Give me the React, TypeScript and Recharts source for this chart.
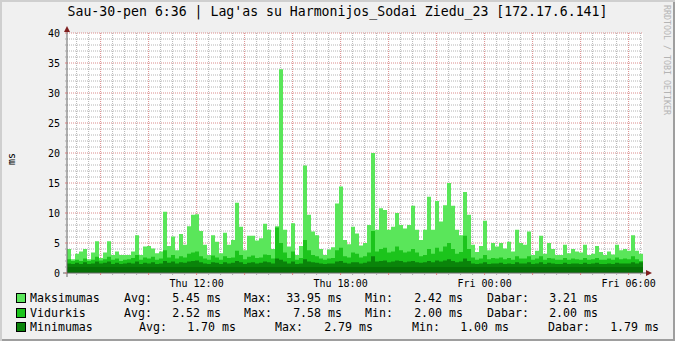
import React from 'react';
import {
  ComposedChart,
  Area,
  XAxis,
  YAxis,
  CartesianGrid,
  ReferenceArea,
  ReferenceDot
} from 'recharts';

// 10 minute samples, starting Thu 06:36 (hours since Thu 00:00)
const START_HOUR = 6.6;
const STEP_HOURS = 1 / 6;

const MAX_MS = [
  4.0, 2.3, 3.2, 3.6, 4.0, 2.3, 3.4, 5.3, 2.5, 3.4, 5.3, 3.0, 3.6, 3.0, 3.0, 3.0, 3.6, 6.3, 3.0, 4.4, 4.5, 4.1, 3.3, 3.6, 10.2, 4.5, 6.1, 3.8, 6.5,
  4.7, 7.8, 9.7, 9.8, 7.0, 4.7, 3.0, 6.3, 5.2, 3.3, 6.7, 4.7, 5.5, 11.7, 7.7, 3.8, 6.2, 6.2, 5.4, 5.8, 8.2, 7.2,
  4.0, 7.8, 33.95, 7.2, 4.4, 8.3, 3.0, 4.5, 17.9, 9.7, 6.9, 6.3, 4.0, 3.0, 3.9, 4.3, 11.6, 14.4, 5.5, 4.8, 7.7, 6.6, 4.6, 5.0, 8.0, 20.0,
  7.2, 10.8, 10.5, 7.2, 7.7, 10.0, 8.0, 7.4, 8.0, 11.2,
  7.2, 5.5, 7.2, 12.7, 7.2, 12.0, 8.6, 11.3, 15.0, 11.2, 7.2, 6.3, 13.5, 9.7, 4.7, 3.5, 4.5, 8.7, 3.8, 5.0, 4.4, 5.0, 4.1, 5.2, 3.6, 7.2, 5.0, 4.7, 6.9,
  3.0, 3.7, 6.2, 3.2, 5.0, 4.0, 3.0, 3.0, 4.7, 3.3, 4.0, 3.6, 3.4, 4.7, 3.0, 3.2, 4.5, 3.5, 3.0, 3.6, 3.1, 4.7, 3.8, 4.0, 3.7, 6.3, 3.7, 3.21
];

const AVG_MS = [
  2.3, 2.0, 2.2, 2.0, 2.4, 2.0, 2.2, 2.7, 2.1, 2.3, 2.7, 2.2, 2.4, 2.0, 2.2, 2.3, 2.5, 3.0, 2.2, 2.6, 2.4, 2.7, 2.2, 2.4, 3.8, 2.6, 3.0, 2.4, 2.8,
  2.6, 3.2, 3.4, 3.6, 2.8, 2.4, 2.2, 2.9, 2.6, 2.2, 2.8, 2.5, 2.6, 3.7, 3.0, 2.3, 2.7, 2.9, 2.5, 2.6, 3.1, 3.0,
  2.4, 7.58, 5.0, 3.4, 2.5, 3.6, 2.2, 2.5, 5.5, 3.8, 3.0, 2.8, 2.4, 2.2, 2.4, 2.5, 3.8, 4.2, 2.8, 2.6, 3.4, 3.2, 2.6, 2.8, 3.4, 7.0,
  3.6, 4.0, 4.2, 3.4, 3.6, 4.4, 3.8, 3.4, 3.6, 4.0,
  3.4, 2.8, 3.0, 4.0, 3.2, 4.2, 3.6, 4.4, 5.0, 4.0, 3.2, 3.5, 6.2, 4.0, 2.6, 2.2, 2.4, 3.0, 2.3, 2.5, 2.4, 2.6, 2.3, 2.5, 2.2, 2.8, 2.4, 2.4, 2.8,
  2.2, 2.4, 2.8, 2.2, 2.5, 2.4, 2.2, 2.2, 2.5, 2.2, 2.4, 2.3, 2.2, 2.5, 2.2, 2.3, 2.5, 2.2, 2.2, 2.4, 2.2, 2.6, 2.3, 2.4, 2.3, 2.8, 2.3, 2.0
];

const MIN_MS = [
  1.6, 1.5, 1.7, 1.5, 1.8, 1.5, 1.6, 1.9, 1.6, 1.7, 1.9, 1.5, 1.7, 1.5, 1.6, 1.7, 1.6, 1.9, 1.5, 1.7, 1.6, 1.8, 1.5, 1.6, 2.0, 1.7, 1.9, 1.6, 1.8,
  1.7, 1.9, 2.0, 2.1, 1.8, 1.6, 1.5, 1.8, 1.7, 1.5, 1.8, 1.6, 1.7, 2.0, 1.8, 1.5, 1.7, 1.8, 1.6, 1.7, 1.9, 1.8,
  1.6, 2.4, 2.2, 1.9, 1.6, 1.9, 1.5, 1.6, 2.3, 1.9, 1.8, 1.7, 1.6, 1.5, 1.6, 1.6, 1.9, 2.0, 1.7, 1.6, 1.8, 1.8, 1.6, 1.7, 1.9, 2.79,
  1.9, 2.0, 2.1, 1.8, 1.9, 2.1, 2.0, 1.8, 1.9, 2.0,
  1.8, 1.7, 1.8, 2.0, 1.8, 2.1, 1.9, 2.1, 2.3, 2.0, 1.8, 1.9, 2.4, 2.0, 1.6, 1.5, 1.6, 1.8, 1.5, 1.6, 1.6, 1.7, 1.5, 1.6, 1.5, 1.8, 1.6, 1.6, 1.8,
  1.5, 1.6, 1.8, 1.5, 1.7, 1.6, 1.5, 1.5, 1.7, 1.5, 1.6, 1.6, 1.5, 1.7, 1.5, 1.6, 1.7, 1.5, 1.5, 1.6, 1.5, 1.7, 1.6, 1.6, 1.6, 1.8, 1.6, 1.79
];

// lowest minimum seen, shown as the darkest band at the bottom
const MIN_FLOOR = 1.0;

const TIME_TICKS = [12, 18, 24, 30];
const TIME_LABELS = ['Thu 12:00', 'Thu 18:00', 'Fri 00:00', 'Fri 06:00'];

const LEGEND_NAMES = ['Maksimumas', 'Vidurkis', 'Minimumas'];
const STAT_AVG = ['5.45', '2.52', '1.70'];
const STAT_MAX = ['33.95', '7.58', '2.79'];
const STAT_MIN = ['2.42', '2.00', '1.00'];
const STAT_NOW = ['3.21', '2.00', '1.79'];

const TITLE = "Sau-30-pen 6:36 | Lag'as su Harmonijos_Sodai Ziedu_23 [172.17.6.141]";

const COLORS = ['#5AE65A', '#1CC41C', '#0A840A'];
const FLOOR_COLOR = '#067006';
const MONO = '"DejaVu Sans Mono", monospace';

// legend column layout (label start / value end), third row is shifted by tabs
const COLS_A = { avg: 124, avgEnd: 221, max: 244, maxEnd: 342, min: 365, minEnd: 463, now: 487, nowEnd: 598 };
const COLS_B = { avg: 139, avgEnd: 236, max: 275, maxEnd: 373, min: 412, minEnd: 509, now: 548, nowEnd: 659 };
const ROW_Y = [298, 313, 327];

const rows = MAX_MS.map((m, i) => ({
  t: START_HOUR + i * STEP_HOURS,
  max: m,
  avg: AVG_MS[i],
  min: MIN_MS[i]
}));
// closing row so the last step reaches the end of the window
rows.push({ ...rows[rows.length - 1], t: START_HOUR + MAX_MS.length * STEP_HOURS });

const END_HOUR = START_HOUR + MAX_MS.length * STEP_HOURS;

const minorY: number[] = [];
const majorY: number[] = [];
for (let v = 1; v <= 40; v++) (v % 5 === 0 ? majorY : minorY).push(v);
const minorX: number[] = [];
const majorX: number[] = [];
for (let h = 7; h <= 30.5; h += 0.5) (h % 2 === 0 ? majorX : minorX).push(h);
const yTicks: number[] = [];
for (let v = 0; v <= 40; v++) yTicks.push(v);
const xTicks = [...minorX, ...majorX].sort((a, b) => a - b);

const YTick = ({ x, y, payload }: any) => {
  const v = payload.value;
  const major = v % 5 === 0;
  return (
    <g>
      <line x1={x - 2} x2={x} y1={y} y2={y} stroke={major ? '#d98080' : '#aaaaaa'} />
      {major && (
        <text x={x - 7} y={y + 3.6} textAnchor="end" fontFamily={MONO} fontSize={10} fill="#000">
          {v}
        </text>
      )}
    </g>
  );
};

const XTick = ({ x, y, payload }: any) => {
  const v = payload.value;
  const idx = TIME_TICKS.indexOf(v);
  const major = v % 2 === 0;
  return (
    <g>
      <line x1={x} x2={x} y1={y} y2={y + 2} stroke={major ? '#d98080' : '#aaaaaa'} />
      {idx >= 0 && (
        <text x={x} y={y + 13.6} textAnchor="middle" fontFamily={MONO} fontSize={10} fill="#000">
          {TIME_LABELS[idx]}
        </text>
      )}
    </g>
  );
};

const UpArrow = ({ cx, cy }: any) => (
  <g>
    <line x1={cx} x2={cx} y1={cy} y2={cy - 5} stroke="#666" />
    <path d={`M${cx - 3},${cy - 1} L${cx + 3},${cy - 1} L${cx},${cy - 7} Z`} fill="#7f1f1f" />
  </g>
);

const RightArrow = ({ cx, cy }: any) => (
  <g>
    <line x1={cx} x2={cx + 4} y1={cy} y2={cy} stroke="#666" />
    <path d={`M${cx + 3},${cy - 3} L${cx + 3},${cy + 3} L${cx + 9},${cy} Z`} fill="#7f1f1f" />
  </g>
);

const Origin = ({ cx, cy }: any) => (
  <g>
    <line x1={cx - 4} x2={cx} y1={cy} y2={cy} stroke="#666" />
    <line x1={cx} x2={cx} y1={cy} y2={cy + 4} stroke="#666" />
  </g>
);

function LegendRow({ i }: { i: number }) {
  const c = i < 2 ? COLS_A : COLS_B;
  const top = ROW_Y[i] - 7;
  const txt: React.CSSProperties = { position: 'absolute', top, lineHeight: '14px', whiteSpace: 'pre' };
  const val = (end: number, s: string) => (
    <span style={{ ...txt, left: end, transform: 'translateX(-100%)' }}>{s + ' ms'}</span>
  );
  return (
    <>
      <div
        style={{
          position: 'absolute',
          left: 16,
          top: ROW_Y[i] - 5,
          width: 8,
          height: 8,
          background: COLORS[i],
          border: '1px solid #000'
        }}
      />
      <span style={{ ...txt, left: 30 }}>{LEGEND_NAMES[i]}</span>
      <span style={{ ...txt, left: c.avg }}>Avg:</span>
      {val(c.avgEnd, STAT_AVG[i])}
      <span style={{ ...txt, left: c.max }}>Max:</span>
      {val(c.maxEnd, STAT_MAX[i])}
      <span style={{ ...txt, left: c.min }}>Min:</span>
      {val(c.minEnd, STAT_MIN[i])}
      <span style={{ ...txt, left: c.now }}>Dabar:</span>
      {val(c.nowEnd, STAT_NOW[i])}
    </>
  );
}

export default function App() {
  return (
    <div
      style={{
        position: 'absolute',
        left: 0,
        top: 0,
        width: 675,
        height: 341,
        background: '#F0F0F0',
        boxShadow: 'inset 2px 2px 0 #CFCFCF, inset -2px -2px 0 #9E9E9E',
        fontFamily: MONO,
        fontSize: '11.6px',
        color: '#000',
        overflow: 'hidden'
      }}
    >
      <div
        style={{
          position: 'absolute',
          left: 0,
          top: 4,
          width: 675,
          textAlign: 'center',
          fontSize: '13.2px',
          lineHeight: '16px',
          whiteSpace: 'pre'
        }}
      >
        {TITLE}
      </div>
      <div
        style={{
          position: 'absolute',
          left: 662,
          top: 5,
          writingMode: 'vertical-rl',
          fontSize: '8.3px',
          color: '#b4b4b4',
          whiteSpace: 'pre'
        }}
      >
        RRDTOOL / TOBI OETIKER
      </div>

      <ComposedChart
        width={675}
        height={341}
        data={rows}
        margin={{ top: 33, right: 32, left: 27, bottom: 38 }}
      >
        <CartesianGrid fill="#ffffff" horizontal={false} vertical={false} />
        <CartesianGrid
          horizontalValues={minorY}
          verticalValues={minorX}
          stroke="#b4b4b4"
          strokeDasharray="1 1"
        />
        <CartesianGrid
          horizontalValues={majorY}
          verticalValues={majorX}
          stroke="#dc8c8c"
          strokeDasharray="1 1"
        />
        <XAxis
          dataKey="t"
          type="number"
          domain={[START_HOUR, END_HOUR]}
          allowDataOverflow
          ticks={xTicks}
          interval={0}
          tickSize={0}
          tickMargin={0}
          tickLine={false}
          tick={<XTick />}
          axisLine={{ stroke: '#666' }}
          height={30}
        />
        <YAxis
          type="number"
          domain={[0, 40]}
          ticks={yTicks}
          interval={0}
          tickSize={0}
          tickMargin={0}
          tickLine={false}
          tick={<YTick />}
          axisLine={{ stroke: '#666' }}
          width={40}
          label={{
            value: 'ms',
            angle: -90,
            position: 'left',
            offset: 16,
            style: { fontFamily: MONO, fontSize: 10, fill: '#000' }
          }}
        />
        <Area
          type="stepAfter"
          dataKey="max"
          fill={COLORS[0]}
          fillOpacity={1}
          stroke="none"
          dot={false}
          activeDot={false}
          isAnimationActive={false}
        />
        <Area
          type="stepAfter"
          dataKey="avg"
          fill={COLORS[1]}
          fillOpacity={1}
          stroke="none"
          dot={false}
          activeDot={false}
          isAnimationActive={false}
        />
        <Area
          type="stepAfter"
          dataKey="min"
          fill={COLORS[2]}
          fillOpacity={1}
          stroke="none"
          dot={false}
          activeDot={false}
          isAnimationActive={false}
        />
        <ReferenceArea y1={0} y2={MIN_FLOOR} fill={FLOOR_COLOR} fillOpacity={1} stroke="none" />
        <ReferenceDot x={START_HOUR} y={40} r={0} shape={<UpArrow />} ifOverflow="visible" />
        <ReferenceDot x={END_HOUR} y={0} r={0} shape={<RightArrow />} ifOverflow="visible" />
        <ReferenceDot x={START_HOUR} y={0} r={0} shape={<Origin />} ifOverflow="visible" />
      </ComposedChart>

      {LEGEND_NAMES.map((_, i) => (
        <LegendRow key={i} i={i} />
      ))}
    </div>
  );
}
